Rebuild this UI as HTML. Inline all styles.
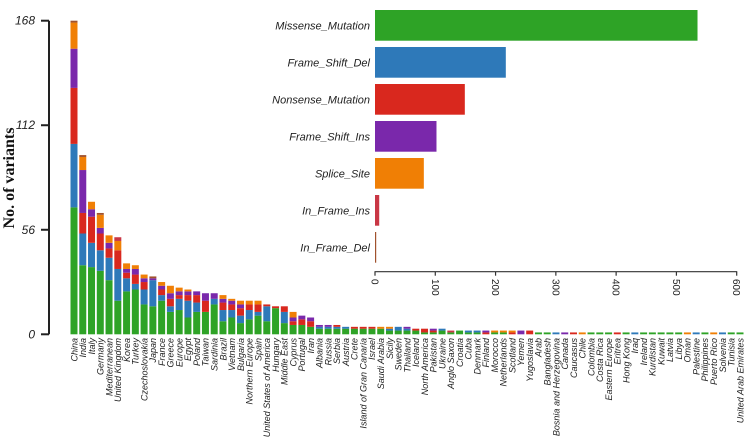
<!DOCTYPE html>
<html><head><meta charset="utf-8"><style>
html,body{margin:0;padding:0;background:#fff;}
svg{display:block;}
text{font-family:"Liberation Sans",sans-serif;fill:#222;}
</style></head><body>
<svg id="chart" width="746" height="438" viewBox="0 0 746 438" xmlns="http://www.w3.org/2000/svg">
<g id="main"></g>
<g id="inset"></g>
<text transform="translate(14,178) rotate(-90)" text-anchor="middle" style="font-family:'Liberation Serif',serif;font-weight:bold;font-size:16px;fill:#111">No. of variants</text>
</svg>
<script>
const countries = ["China","India","Italy","Germany","Mediterranean","United Kingdom","Korea","Turkey","Czechoslovakia","Japan","France","Greece","Europe","Egypt","Poland","Taiwan","Sardinia","Brazil","Vietnam","Bulgaria","Northern Europe","Spain","United States of America","Hungary","Middle East","Cyprus","Portugal","Iran","Albania","Russia","Serbia","Austria","Crete","Island of Gran Canaria","Israel","Saudi Arabia","Sicily","Sweden","Thailand","Iceland","North America","Pakistan","Ukraine","Anglo Saxon","Croatia","Cuba","Denmark","Finland","Morocco","Netherlands","Scotland","Yemen","Yugoslavia","Arab","Bangladesh","Bosnia and Herzegovina","Canada","Caucasus","Chile","Colombia","Costa Rica","Eastern Europe","Eritrea","Hong Kong","Iraq","Ireland","Kurdistan","Kuwait","Latvia","Libya","Oman","Palestine","Philippines","Puerto Rico","Solvenia","Tunisia","United Arab Emirates"];
const missense =      [68,37,36,34,29,18,23,24,16,15,18,12,13,9,12,12,16,7,9,6,8,10,7,14,6,5,5,4,3,3,3,3,3,3,3,3,2,2,2,2,1,1,2,1,2,1,1,0,1,1,0,0,0,1,1,0,0,0,0,1,1,1,0,1,0,1,1,1,1,1,0,0,1,0,0,1,1];
const frameShiftDel = [34,17,13,11,12,17,7,3,8,14,3,3,6,9,5,0,3,6,4,4,5,2,8,0,6,0,0,0,1,1,1,1,0,0,0,0,1,2,1,0,0,0,1,0,0,1,1,0,0,0,0,0,0,0,0,1,0,0,0,0,0,0,0,0,1,0,0,0,0,0,0,1,0,0,1,0,0];
const nonsense =      [30,11,14,9,5,10,3,5,4,0,3,4,2,3,4,6,0,4,3,4,3,4,1,1,3,2,3,3,0,0,1,0,1,1,1,0,0,0,0,1,2,1,0,0,0,0,0,1,0,0,1,0,2,0,0,0,0,1,0,0,0,0,1,0,0,0,0,0,0,0,0,0,0,0,0,0,0];
const frameShiftIns = [21,23,4,3,3,0,2,3,2,1,2,3,2,2,2,4,3,2,2,2,0,0,0,0,0,2,2,2,1,1,0,0,0,0,0,0,0,0,1,0,0,1,0,0,0,0,0,1,0,0,0,2,0,0,0,0,1,0,0,0,0,0,0,0,0,0,0,0,0,0,0,0,0,0,0,0,0];
const spliceSite =    [14,7,4,7,4,5,3,2,2,0,2,4,2,1,0,0,0,2,1,2,2,2,0,0,0,3,0,0,0,0,0,0,0,0,0,1,1,0,0,0,0,0,0,0,0,0,0,0,1,1,1,0,0,0,0,0,0,0,1,0,0,0,0,0,0,0,0,0,0,0,1,0,0,1,0,0,0];
const inFrameIns =    [0,0,0,0,0,2,0,0,0,0,0,0,0,0,0,0,0,0,0,0,0,0,0,0,0,0,0,0,0,0,0,0,0,0,0,0,0,0,0,0,0,0,0,1,0,0,0,0,0,0,0,0,0,0,0,0,0,0,0,0,0,0,0,0,0,0,0,0,0,0,0,0,0,0,0,0,0];
const inFrameDel =    [1,1,0,1,0,0,0,0,0,1,0,0,0,0,0,0,0,0,0,0,0,0,0,0,0,0,0,0,0,0,0,0,0,0,0,0,0,0,0,0,0,0,0,0,0,0,0,0,0,0,0,0,0,0,0,0,0,0,0,0,0,0,0,0,0,0,0,0,0,0,0,0,0,0,0,0,0];
const yTicks = [0,56,112,168];
const mutationTypes = ["Missense_Mutation","Frame_Shift_Del","Nonsense_Mutation","Frame_Shift_Ins","Splice_Site","In_Frame_Ins","In_Frame_Del"];
const mutationCounts = [535,217,149,102,81,7,2];
const xTicksInset = [0,100,200,300,400,500,600];

const colors = ["#2ea326","#2e79b9","#d9281e","#7a28ab","#f07f05","#c93745","#a0522d"];
const seriesKeys = ["missense","frame-shift-del","nonsense","frame-shift-ins","splice-site","in-frame-ins","in-frame-del"];
const series = [missense,frameShiftDel,nonsense,frameShiftIns,spliceSite,inFrameIns,inFrameDel];
const NS="http://www.w3.org/2000/svg";
function mk(tag,attrs,parent){const e=document.createElementNS(NS,tag);for(const k in attrs)e.setAttribute(k,attrs[k]);parent.appendChild(e);return e;}

const y0=334.3, yTop=20.7, yMax=168;
const yScale=v=>y0-(v/yMax)*(y0-yTop);
const xStart=74, xStep=(740-74)/(countries.length-1), barW=7;
const xScale=i=>xStart+i*xStep;
const main=document.getElementById('main');

const ax=mk('line',{x1:49,x2:49,y1:yTop,y2:y0,stroke:'#222','stroke-width':2},main);


yTicks.forEach(t=>{
  const tl=mk('line',{x1:41,x2:49,y1:yScale(t),y2:yScale(t),stroke:'#222','stroke-width':2},main);
  
  
  const tx=mk('text',{x:35,y:yScale(t)+4,'text-anchor':'end','font-size':12,'font-style':'italic'},main);
  tx.textContent=t;
  
  
});

countries.forEach((c,i)=>{
  const cx=xScale(i);
  let cum=0;
  series.forEach((s,k)=>{
    const v=s[i]; if(!v) return;
    const yA=yScale(cum), yB=yScale(cum+v);
    const r=mk('rect',{x:cx-barW/2,y:yB,width:barW,height:yA-yB,fill:colors[k]},main);
    
    
    cum+=v;
  });
  const t=mk('text',{x:0,y:0,'text-anchor':'end','font-size':9,'font-style':'italic',transform:`translate(${cx+3.3},338) rotate(-90)`},main);
  t.textContent=c;
  
  
});

const inset=document.getElementById('inset');
const ix0=375, ix1=736.7, iMax=600;
const ixScale=v=>ix0+(v/iMax)*(ix1-ix0);
const iTop=10, iStep=37, iH=30.7, iAxisY=271.7;
mutationTypes.forEach((m,i)=>{
  const y=iTop+i*iStep;
  const r=mk('rect',{x:ix0,y:y,width:Math.max(1,ixScale(mutationCounts[i])-ix0),height:iH,fill:colors[i]},inset);
  
  
  const t=mk('text',{x:370,y:y+iH/2+4,'text-anchor':'end','font-size':11,'font-style':'italic'},inset);
  t.textContent=m;
  
  
});
const iax=mk('line',{x1:ix0-0.5,x2:ix1+0.5,y1:iAxisY,y2:iAxisY,stroke:'#333','stroke-width':1.2},inset);


xTicksInset.forEach(t=>{
  const x=ixScale(t);
  const tl=mk('line',{x1:x,x2:x,y1:iAxisY,y2:iAxisY+4,stroke:'#333','stroke-width':1.2},inset);
  
  
  const tx=mk('text',{x:0,y:0,'font-size':10,transform:`translate(${x-3.5},279) rotate(90)`},inset);
  tx.textContent=t;
  
  
});
</script>
</body></html>
